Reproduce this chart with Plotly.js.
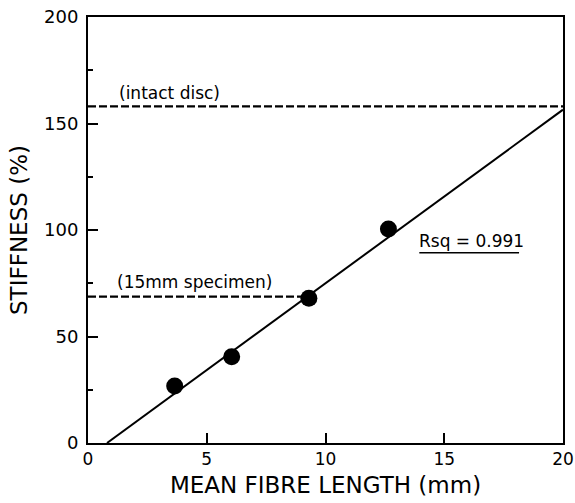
<!DOCTYPE html>
<html><head><meta charset="utf-8">
<script src="https://cdn.plot.ly/plotly-3.0.1.min.js"></script>
<style>body{margin:0;padding:0;background:#fff}#c{width:575px;height:503px}</style>
</head><body><div id="c"></div>
<script>
// Data
const fibreLength = [3.65, 6.05, 9.3, 12.65];
const stiffness = [26.8, 40.5, 68, 100.5];
const fitX = [0.8, 20];
const fitY = [0, 156.5];
const intactX = [0, 20];
const intactY = [158, 158];
const specimenX = [0, 9.3];
const specimenY = [68.7, 68.7];
const xTicks = [0, 5, 10, 15, 20];
const yTicks = [0, 50, 100, 150, 200];
const yMinorTicks = [25, 75, 125, 175];

const font = 'DejaVu Sans, sans-serif';
const traces = [
  {x: intactX, y: intactY, mode: 'lines', line: {color: '#000', width: 2.2, dash: '8px,3px'}, hoverinfo: 'skip'},
  {x: specimenX, y: specimenY, mode: 'lines', line: {color: '#000', width: 2.2, dash: '8px,3px'}, hoverinfo: 'skip'},
  {x: fitX, y: fitY, mode: 'lines', line: {color: '#000', width: 2}},
  {x: fibreLength, y: stiffness, mode: 'markers', marker: {color: '#000', size: 17}}
];
const layout = {
  width: 575, height: 503,
  margin: {l: 88, r: 12, t: 17, b: 60},
  showlegend: false,
  paper_bgcolor: '#fff', plot_bgcolor: '#fff',
  font: {family: font, color: '#000', size: 17},
  xaxis: {
    range: [0, 20], tickvals: xTicks, ticktext: xTicks.map(String),
    ticks: 'inside', ticklen: 10, tickwidth: 2, tickcolor: '#000',
    showgrid: false, zeroline: false, showline: true, linecolor: '#000', linewidth: 2, mirror: true,
    tickfont: {size: 17, family: font},
    title: {text: 'MEAN FIBRE LENGTH (mm)', font: {size: 23, family: font}, standoff: 8}
  },
  yaxis: {
    range: [0, 200], tickvals: yTicks, ticktext: yTicks.map(String),
    ticks: 'inside', ticklen: 10, tickwidth: 2, tickcolor: '#000',
    ticklabelstandoff: 4,
    minor: {tickvals: yMinorTicks, ticks: 'inside', ticklen: 5, tickwidth: 2, tickcolor: '#000'},
    showgrid: false, zeroline: false, showline: true, linecolor: '#000', linewidth: 2, mirror: true,
    tickfont: {size: 18, family: font},
    title: {text: 'STIFFNESS (%)', font: {size: 23, family: font}, standoff: 10}
  },
  annotations: [
    {x: 1.2, y: 164.3, xref: 'x', yref: 'y', text: '(intact disc)', showarrow: false, xanchor: 'left', yanchor: 'middle', font: {size: 17, family: font}},
    {x: 1.15, y: 75.6, xref: 'x', yref: 'y', text: '(15mm specimen)', showarrow: false, xanchor: 'left', yanchor: 'middle', font: {size: 17, family: font}},
    {x: 13.85, y: 94.8, xref: 'x', yref: 'y', text: 'Rsq = 0.991', showarrow: false, xanchor: 'left', yanchor: 'middle', font: {size: 17, family: font}}
  ],
  shapes: [
    {type: 'line', xref: 'x', yref: 'y', x0: 13.95, x1: 18.15, y0: 89.3, y1: 89.3, line: {color: '#000', width: 1.5}}
  ]
};
Plotly.newPlot('c', traces, layout, {displayModeBar: false, staticPlot: true});
</script></body></html>
